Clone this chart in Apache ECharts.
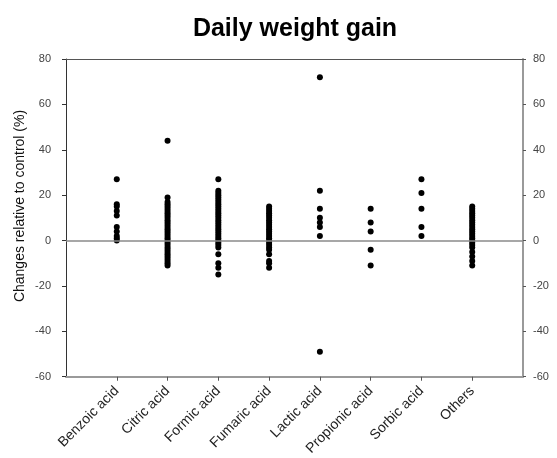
<!DOCTYPE html>
<html><head><meta charset="utf-8">
<script src="https://cdn.jsdelivr.net/npm/echarts@6/dist/echarts.min.js"></script>
<style>html,body{margin:0;padding:0;background:#fff}#c{width:557px;height:458px}</style>
</head><body><div id="c"></div>
<script>
const categories = ['Benzoic acid','Citric acid','Formic acid','Fumaric acid','Lactic acid','Propionic acid','Sorbic acid','Others'];
const benzoic = [27, 16, 15, 13, 11, 6, 4, 2, 1, 0];
const citric = [44, 19, 17, 16, 15, 14, 13, 12, 11, 10, 9, 8, 7, 6, 5, 4, 3, 2, 1, 0, -1, -2, -3, -4, -5, -6, -7, -8, -9, -10, -11];
const formic = [27, 22, 21, 20, 19, 18, 17, 16, 15, 14, 13, 12, 11, 10, 9, 8, 7, 6, 5, 4, 3, 2, 1, 0, -1, -2, -3, -6, -10, -12, -15];
const fumaric = [15, 14, 13, 12, 11, 10, 9, 8, 7, 6, 5, 4, 3, 2, 1, 0, -1, -2, -3, -4, -6, -9, -10, -12];
const lactic = [72, 22, 14, 10, 8, 6, 2, -49];
const propionic = [14, 8, 4, -4, -11];
const sorbic = [27, 21, 14, 6, 2];
const others = [15, 14, 13, 12, 11, 10, 9, 8, 7, 6, 5, 4, 3, 2, 1, 0, -1, -2, -3, -5, -7, -9, -11];
const yTicks = [-60, -40, -20, 0, 20, 40, 60, 80];

const groups = [benzoic, citric, formic, fumaric, lactic, propionic, sorbic, others];
const points = [];
groups.forEach((g, i) => g.forEach(v => points.push([i + 1, v])));
const catPos = categories.map((c, i) => i + 1);

const chart = echarts.init(document.getElementById('c'), null, {renderer: 'canvas'});
const yCommon = {
  type: 'value', min: yTicks[0], max: yTicks[yTicks.length - 1], interval: 20,
  splitLine: {show: false}
};
chart.setOption({
  animation: false,
  title: {
    text: 'Daily weight gain', left: 290, top: 12, textAlign: 'center',
    textStyle: {fontFamily: 'Liberation Sans, Arial', fontSize: 25, fontWeight: 'bold', color: '#000'}
  },
  graphic: [{
    type: 'text', x: 20, y: 206, rotation: Math.PI / 2,
    style: {
      text: 'Changes relative to control (%)', align: 'center', verticalAlign: 'middle',
      fontFamily: 'Liberation Sans, Arial', fontSize: 14, fill: '#111'
    }
  }],
  grid: {left: 66, right: 34, top: 59, bottom: 81},
  xAxis: [{
    type: 'value', min: 0, max: 9, interval: 1, position: 'bottom',
    splitLine: {show: false},
    axisLine: {show: true, onZero: false, lineStyle: {color: '#9a9a9a', width: 2}},
    axisTick: {show: true, length: 4, customValues: catPos, lineStyle: {color: '#555'}},
    axisLabel: {
      customValues: catPos, rotate: 45, margin: 12,
      fontFamily: 'Liberation Sans, Arial', fontSize: 14, color: '#222',
      formatter: v => categories[Math.round(v) - 1] || ''
    }
  }, {
    type: 'value', min: 0, max: 9, position: 'top',
    splitLine: {show: false},
    axisLine: {show: true, onZero: false, lineStyle: {color: '#555', width: 1}},
    axisTick: {show: false}, axisLabel: {show: false}
  }],
  yAxis: [Object.assign({}, yCommon, {
    position: 'left',
    axisLine: {show: true, onZero: false, lineStyle: {color: '#333', width: 1}},
    axisTick: {show: true, length: 4, lineStyle: {color: '#333'}},
    axisLabel: {fontFamily: 'Liberation Sans, Arial', fontSize: 11, color: '#444', margin: 15}
  }), Object.assign({}, yCommon, {
    position: 'right',
    axisLine: {show: true, onZero: false, lineStyle: {color: '#9a9a9a', width: 2}},
    axisTick: {show: true, length: 3, lineStyle: {color: '#555'}},
    axisLabel: {fontFamily: 'Liberation Sans, Arial', fontSize: 11, color: '#444', margin: 10}
  })],
  series: [{
    type: 'scatter', xAxisIndex: 0, yAxisIndex: 0,
    symbol: 'circle', symbolSize: 6,
    itemStyle: {color: '#000', opacity: 1},
    data: points,
    markLine: {
      silent: true, symbol: 'none', label: {show: false},
      lineStyle: {color: '#8a8a8a', width: 1.5, type: 'solid'},
      data: [{yAxis: 0}]
    },
    z: 3
  }]
});
</script></body></html>
